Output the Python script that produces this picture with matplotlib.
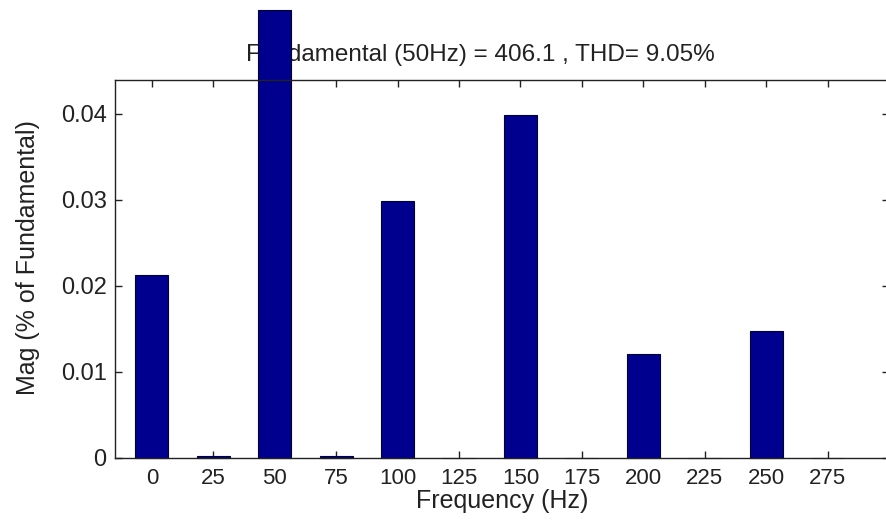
import numpy as np
import matplotlib
matplotlib.use("Agg")
from matplotlib import pyplot as plt

# harmonic spectrum
freq_hz = [0, 25, 50, 75, 100, 125, 150, 175, 200, 225, 250, 275]
mag = [0.0213, 0.0002, 0.0521, 0.0002, 0.0299, 0.0, 0.0399, 0.0, 0.0121, 0.0, 0.0148, 0.0]
y_ticks = [0, 0.01, 0.02, 0.03, 0.04]
y_ticklabels = ["0", "0.01", "0.02", "0.03", "0.04"]
title_str = "Fundamental (50Hz) = 406.1 , THD= 9.05%"

plt.rcParams["font.family"] = ["Liberation Sans", "DejaVu Sans"]

fig = plt.figure(figsize=(8.86, 5.26), dpi=100)
ax = fig.add_axes([115 / 886, 1 - 458 / 526, (889 - 115) / 886, (458 - 80) / 526])

bars = ax.bar(freq_hz, mag, width=13.5, color="#00008F", edgecolor="#000030",
              linewidth=0.8, zorder=2)
for _b in bars:
    _b.set_clip_on(False)

ax.set_xlim(-15, 300)
ax.set_ylim(0, 0.04395)
ax.set_xticks(freq_hz)
ax.set_xticklabels([str(_f) for _f in freq_hz])
ax.set_yticks(y_ticks)
ax.set_yticklabels(y_ticklabels)
ax.tick_params(direction="in", length=5, width=1, top=True, right=True,
               colors="#222222")
ax.tick_params(axis="x", pad=7, labelsize=16)
ax.tick_params(axis="y", pad=6, labelsize=17)
for _s in ax.spines.values():
    _s.set_linewidth(1.0)
    _s.set_color("#222222")

ax.set_xlabel("Frequency (Hz)", fontsize=18, labelpad=0, color="#222222")
ax.set_ylabel("Mag (% of Fundamental)", fontsize=18, color="#222222")
ax.yaxis.set_label_coords(-0.097, 0.53)

# title sits under the clipped-off fundamental bar
ax.text(480 / 886, 1 - 55 / 526, title_str, transform=fig.transFigure,
        ha="center", va="center", fontsize=17.5, color="#222222", zorder=1)

fig.savefig("out.png", dpi=100)
